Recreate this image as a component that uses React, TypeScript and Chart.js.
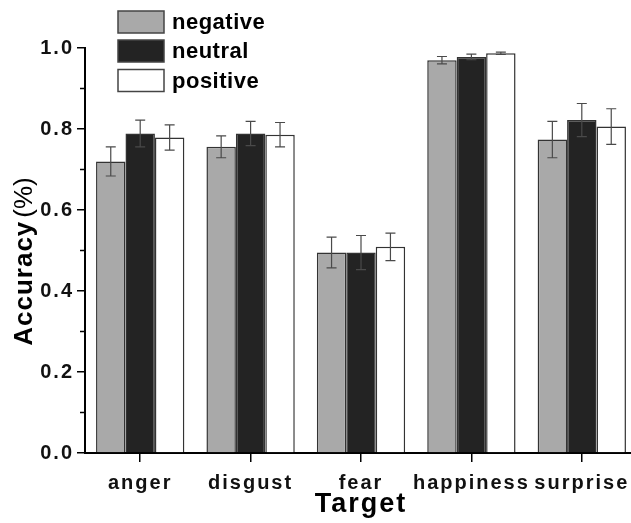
import React, { useEffect, useRef } from "react";
import { Chart, registerables } from "chart.js";

Chart.register(...registerables);

const categories = ["anger", "disgust", "fear", "happiness", "surprise"];
const seriesNames = ["negative", "neutral", "positive"];
const negative = [0.72, 0.756, 0.495, 0.97, 0.774];
const neutral = [0.789, 0.789, 0.495, 0.978, 0.822];
const positive = [0.779, 0.786, 0.509, 0.987, 0.806];
const negativeErr = [0.036, 0.027, 0.038, 0.009, 0.045];
const neutralErr = [0.033, 0.03, 0.042, 0.007, 0.041];
const positiveErr = [0.031, 0.03, 0.034, 0.003, 0.044];
const minorTicks = [0.1, 0.3, 0.5, 0.7, 0.9];
const xTitle = "Target";
const yTitleBold = "Accuracy";
const yTitleNormal = "(%)";

const FONT = "'Liberation Sans', Arial, sans-serif";
const TICK_SPACING = "2px";
const errors = [negativeErr, neutralErr, positiveErr];
const fills = ["#a9a9a9", "#232323", "#ffffff"];

const customPlugin = {
  id: "customDraw",
  beforeUpdate(chart: any) {
    chart.ctx.letterSpacing = TICK_SPACING;
  },
  beforeDraw(chart: any) {
    const ctx = chart.ctx;
    ctx.save();
    ctx.fillStyle = "#fff";
    ctx.fillRect(0, 0, chart.width, chart.height);
    ctx.restore();
    ctx.letterSpacing = TICK_SPACING;
  },
  afterDatasetsDraw(chart: any) {
    const ctx = chart.ctx;
    const y = chart.scales.y;
    ctx.save();
    ctx.strokeStyle = "#4a4a4a";
    ctx.lineWidth = 1.2;
    chart.data.datasets.forEach((ds: any, di: number) => {
      const meta = chart.getDatasetMeta(di);
      meta.data.forEach((bar: any, i: number) => {
        const v = ds.data[i];
        const e = errors[di][i];
        const x = bar.x;
        const y1 = y.getPixelForValue(v + e);
        const y2 = y.getPixelForValue(v - e);
        ctx.beginPath();
        ctx.moveTo(x, y1);
        ctx.lineTo(x, y2);
        ctx.moveTo(x - 5, y1);
        ctx.lineTo(x + 5, y1);
        ctx.moveTo(x - 5, y2);
        ctx.lineTo(x + 5, y2);
        ctx.stroke();
      });
    });
    ctx.restore();
  },
  afterDraw(chart: any) {
    const ctx = chart.ctx;
    const ys = chart.scales.y;
    const left = chart.chartArea.left;
    ctx.save();
    // minor ticks
    ctx.strokeStyle = "#000";
    ctx.lineWidth = 1.5;
    minorTicks.forEach((v) => {
      const py = ys.getPixelForValue(v);
      ctx.beginPath();
      ctx.moveTo(left - 5, py);
      ctx.lineTo(left, py);
      ctx.stroke();
    });
    // legend
    const tops = [11, 40, 69.5];
    chart.data.datasets.forEach((ds: any, i: number) => {
      ctx.fillStyle = ds.backgroundColor;
      ctx.fillRect(118, tops[i], 46, 22);
      ctx.strokeStyle = "#444";
      ctx.lineWidth = 1.5;
      ctx.strokeRect(118, tops[i], 46, 22);
      ctx.fillStyle = "#000";
      ctx.font = `bold 22px ${FONT}`;
      ctx.letterSpacing = "0.5px";
      ctx.textAlign = "left";
      ctx.textBaseline = "middle";
      ctx.fillText(ds.label, 172, tops[i] + 12);
    });
    // y title
    ctx.translate(32, 261.5);
    ctx.rotate(-Math.PI / 2);
    ctx.letterSpacing = "1px";
    ctx.font = `bold 26px ${FONT}`;
    const w1 = ctx.measureText(yTitleBold).width;
    ctx.font = `26px ${FONT}`;
    ctx.letterSpacing = "0px";
    const w2 = ctx.measureText(yTitleNormal).width;
    const gap = 3;
    const start = -(w1 + gap + w2) / 2;
    ctx.textAlign = "left";
    ctx.textBaseline = "alphabetic";
    ctx.fillStyle = "#000";
    ctx.letterSpacing = "1px";
    ctx.font = `bold 26px ${FONT}`;
    ctx.fillText(yTitleBold, start, 0);
    ctx.letterSpacing = "0px";
    ctx.font = `26px ${FONT}`;
    ctx.fillText(yTitleNormal, start + w1 + gap, 0);
    ctx.restore();
    ctx.letterSpacing = TICK_SPACING;
  },
};

export default function App() {
  const ref = useRef<HTMLCanvasElement>(null);
  useEffect(() => {
    if (!ref.current) return;
    const values = [negative, neutral, positive];
    const chart = new Chart(ref.current, {
      type: "bar",
      data: {
        labels: categories,
        datasets: seriesNames.map((name, i) => ({
          label: name,
          data: values[i],
          backgroundColor: fills[i],
          borderColor: "#333",
          borderWidth: 1.5,
        })),
      },
      options: {
        responsive: false,
        animation: false,
        devicePixelRatio: 1,
        layout: { padding: { top: 48, right: 25, left: 0, bottom: 0 } },
        datasets: { bar: { categoryPercentage: 0.8, barPercentage: 1 } },
        plugins: { legend: { display: false }, tooltip: { enabled: false } },
        scales: {
          x: {
            grid: { drawOnChartArea: false, offset: false, tickLength: 9, color: "#000", lineWidth: 1.5 },
            border: { color: "#000", width: 2 },
            ticks: { color: "#111", font: { family: FONT, weight: "bold", size: 20 }, padding: 9, maxRotation: 0, autoSkip: false },
            title: { display: true, text: xTitle, color: "#000", font: { family: FONT, weight: "bold", size: 27 }, padding: { top: 0, bottom: 2 } },
            afterFit(s: any) {
              s.height = 70;
            },
          },
          y: {
            min: 0,
            max: 1,
            grid: { drawOnChartArea: false, tickLength: 8, color: "#000", lineWidth: 1.5 },
            border: { color: "#000", width: 2 },
            ticks: {
              stepSize: 0.2,
              color: "#111",
              font: { family: FONT, weight: "bold", size: 20 },
              padding: 3,
              callback: (v: any) => Number(v).toFixed(1),
            },
            afterFit(s: any) {
              s.width = 85;
            },
          },
        },
      } as any,
      plugins: [customPlugin],
    });
    return () => chart.destroy();
  }, []);
  return (
    <div style={{ position: "fixed", left: 0, top: 0, width: 631, height: 523, overflow: "hidden", background: "#fff" }}>
      <canvas ref={ref} width={662} height={523} style={{ display: "block", width: 662, height: 523 }} />
    </div>
  );
}
